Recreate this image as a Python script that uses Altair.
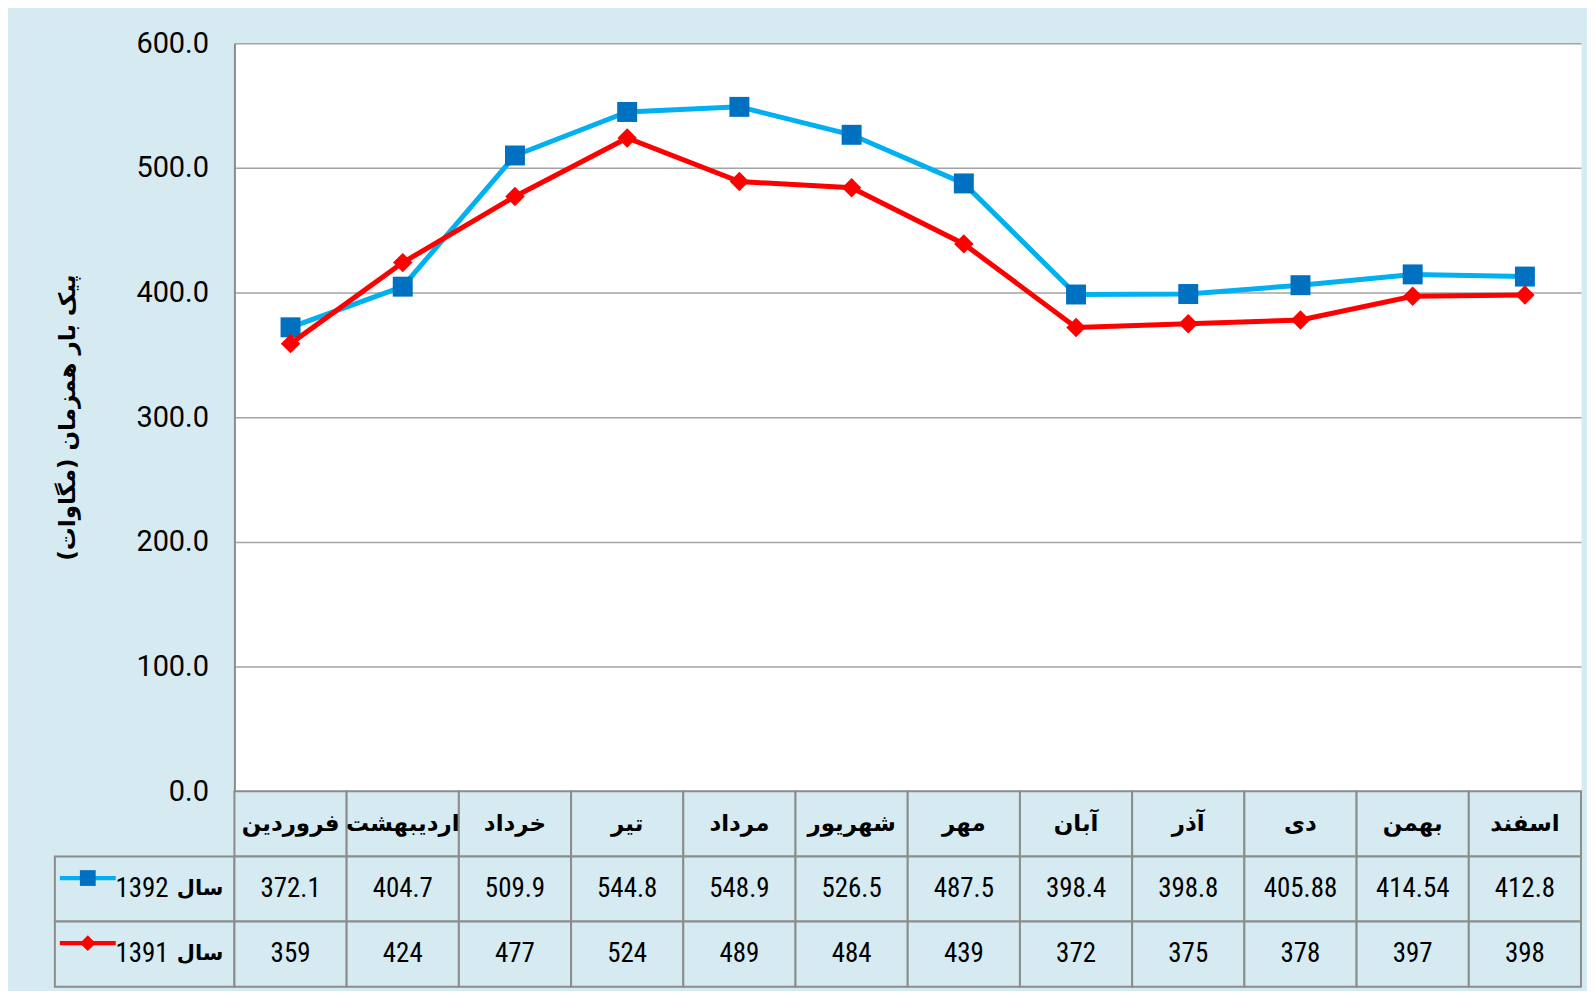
import altair as alt
import pandas as pd

months = ["فروردین", "اردیبهشت", "خرداد", "تیر", "مرداد", "شهریور",
          "مهر", "آبان", "آذر", "دی", "بهمن", "اسفند"]
v1392 = [372.1, 404.7, 509.9, 544.8, 548.9, 526.5, 487.5, 398.4, 398.8, 405.88, 414.54, 412.8]
v1391 = [359, 424, 477, 524, 489, 484, 439, 372, 375, 378, 397, 398]
years = ["1392", "1391"]
y_ticks = [0, 100, 200, 300, 400, 500, 600]
y_title = "پیک بار همزمان (مگاوات)"
year_word = "سال"

BG = "#D5EAF1"
GRID = "#a3a3a3"
BORDER = "#8c8c8c"
line_colors = ["#00B0F0", "#FF0000"]
marker_colors = ["#0070C0", "#FF0000"]
shapes = ["square", "diamond"]
AR_FONT = "DejaVu Sans"
NUM_FONT = "Roboto Condensed, DejaVu Sans Condensed, Roboto"

# long-form data
rows = []
for yr, vals in zip(years, [v1392, v1391]):
    for i, (m, v) in enumerate(zip(months, vals)):
        rows.append({"month": m, "idx": i, "series": yr, "value": v, "label": str(v)})
df = pd.DataFrame(rows)

row_domain = ["h"] + years

x_pt = alt.X("month:N", sort=months, axis=None,
             scale=alt.Scale(type="point", padding=0.5))
y_val = alt.Y("value:Q",
              scale=alt.Scale(domain=[0, 600], nice=False, zero=True),
              axis=alt.Axis(values=y_ticks, format=".1f", title=y_title,
                            labelFont="Roboto", labelFontSize=29, labelColor="black",
                            labelPadding=26, ticks=False, tickSize=0,
                            domain=True, domainColor=BORDER, domainWidth=2,
                            grid=True, gridColor=GRID, gridWidth=1.5,
                            titleFont=AR_FONT, titleFontSize=23, titleFontWeight="bold",
                            titleColor="black", titleAngle=270, titleX=-167, titleY=375,
                            titleAlign="center", titleBaseline="middle"))

stroke_scale = alt.Scale(domain=years, range=line_colors)
fill_scale = alt.Scale(domain=years, range=marker_colors)
shape_scale = alt.Scale(domain=years, range=shapes)

layers = []
for yr, sz in zip(years, [400, 380]):
    base = alt.Chart(df).transform_filter(alt.datum.series == yr)
    ln = base.mark_line(strokeWidth=5).encode(
        x=x_pt, y=y_val, order=alt.Order("idx:Q"),
        color=alt.Color("series:N", scale=stroke_scale, legend=None))
    pt = base.mark_point(filled=True, size=sz, opacity=1).encode(
        x=x_pt, y="value:Q",
        fill=alt.Fill("series:N", scale=fill_scale, legend=None),
        shape=alt.Shape("series:N", scale=shape_scale, legend=None))
    layers += [ln, pt]

line_chart = alt.layer(*layers).properties(
    width=1350, height=750,
    view=alt.ViewBackground(fill="white", stroke="transparent"))

spacer = alt.Chart(pd.DataFrame({"a": [0]})).mark_text(text=" ").properties(
    width=180, height=750, view=alt.ViewBackground(fill="transparent", stroke="transparent"))

# table
header_df = pd.DataFrame({"month": months, "row": "h", "label": months})
cells_df = pd.concat([header_df,
                      df.assign(row=df["series"])[["month", "row", "label"]]],
                     ignore_index=True)

x_band = alt.X("month:N", sort=months, axis=None,
               scale=alt.Scale(paddingInner=0, paddingOuter=0))
y_band = alt.Y("row:N", axis=None,
               scale=alt.Scale(domain=row_domain, paddingInner=0, paddingOuter=0))

tbase = alt.Chart(cells_df)
t_rect = tbase.mark_rect(fill=BG, stroke=BORDER, strokeWidth=2).encode(x=x_band, y=y_band)
t_head = tbase.transform_filter(alt.datum.row == "h").mark_text(
    font=AR_FONT, fontSize=23, fontWeight="bold", color="black", baseline="middle"
).encode(x=x_band, y=y_band, text="label:N")
t_vals = tbase.transform_filter(alt.datum.row != "h").mark_text(
    font=NUM_FONT, fontSize=27, color="black", baseline="middle"
).encode(x=x_band, y=y_band, text="label:N")
table_chart = alt.layer(t_rect, t_head, t_vals).properties(
    width=1350, height=196, view=alt.ViewBackground(fill="transparent", stroke="transparent"))

# label column
lab_df = pd.DataFrame({"col": ["c", "c"], "row": years, "series": years,
                       "year": years, "word": [year_word, year_word]})
x_lab = alt.X("col:N", axis=None, scale=alt.Scale(paddingInner=0, paddingOuter=0))
lbase = alt.Chart(lab_df)
l_rect = lbase.mark_rect(fill=BG, stroke=BORDER, strokeWidth=2).encode(x=x_lab, y=y_band)
l_word = lbase.mark_text(font=AR_FONT, fontSize=21, fontWeight="bold", color="black",
                         align="right", baseline="middle", dx=79).encode(
    x=x_lab, y=y_band, text="word:N")
l_year = lbase.mark_text(font=NUM_FONT, fontSize=27, color="black",
                         align="right", baseline="middle", dx=24).encode(
    x=x_lab, y=y_band, text="year:N")
l_seg = lbase.mark_point(filled=True, shape="M-1,-0.075H1V0.075H-1Z", size=3136,
                         opacity=1, xOffset=-57, yOffset=-11, strokeWidth=0).encode(
    x=x_lab, y=y_band, fill=alt.Fill("series:N", scale=stroke_scale, legend=None))
l_mark = lbase.mark_point(filled=True, size=250, opacity=1, xOffset=-57, yOffset=-11,
                          strokeWidth=0).encode(
    x=x_lab, y=y_band,
    fill=alt.Fill("series:N", scale=fill_scale, legend=None),
    shape=alt.Shape("series:N", scale=shape_scale, legend=None))
label_chart = alt.layer(l_rect, l_word, l_year, l_seg, l_mark).resolve_scale(
    fill="independent").properties(
    width=180, height=196, view=alt.ViewBackground(fill="transparent", stroke="transparent"))

chart = alt.concat(spacer, line_chart, label_chart, table_chart, columns=2,
                   spacing=0, bounds="flush", align="each").properties(
    background=BG,
    padding={"left": 45, "top": 19, "right": 4, "bottom": 1}
).configure_view(stroke="transparent")

chart.save("out.html", embed_options={"renderer": "svg", "actions": False})
